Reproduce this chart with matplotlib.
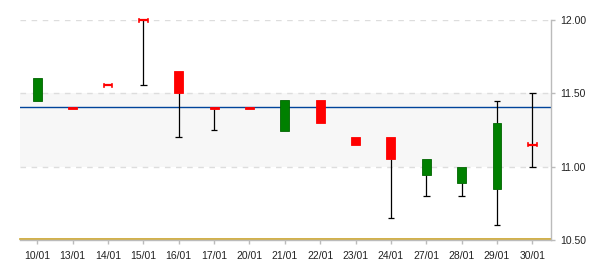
import matplotlib
matplotlib.use("Agg")
import matplotlib.pyplot as plt
from matplotlib.patches import Rectangle

dates = ["10/01", "13/01", "14/01", "15/01", "16/01", "17/01", "20/01", "21/01",
         "22/01", "23/01", "24/01", "27/01", "28/01", "29/01", "30/01"]
opens  = [11.45, 11.41, 11.555, 12.00, 11.65, 11.41, 11.41, 11.245, 11.455, 11.20, 11.20, 10.94, 10.89, 10.85, 11.148]
closes = [11.605, 11.395, 11.555, 12.00, 11.50, 11.395, 11.395, 11.455, 11.30, 11.15, 11.05, 11.05, 11.00, 11.30, 11.148]
highs  = [11.605, 11.41, 11.555, 12.00, 11.65, 11.41, 11.41, 11.455, 11.455, 11.20, 11.20, 11.05, 11.00, 11.45, 11.50]
lows   = [11.45, 11.395, 11.555, 11.555, 11.20, 11.25, 11.395, 11.245, 11.30, 11.15, 10.65, 10.80, 10.80, 10.60, 11.00]
ref_line = 11.41
low_line = 10.51
band = (11.0, 11.5)
yticks = [10.5, 11.0, 11.5, 12.0]

plt.rcParams['font.family'] = ['Liberation Sans', 'DejaVu Sans']
fig = plt.figure(figsize=(6, 2.7), dpi=100)
ax = fig.add_axes([20/600, 1-240/270, 530.7/600, 220/270])
ax.set_xlim(-0.49, len(dates)-0.48)
ax.set_ylim(10.5, 12.0)

ax.axhspan(band[0], band[1], color="#f7f7f7", zorder=0, lw=0)
for v in [11.0, 11.5, 12.0]:
    ax.axhline(v, color="#dddddd", lw=1, ls=(0, (4, 4)), zorder=1)
ax.axhline(ref_line, color="#00449a", lw=1, zorder=2)
ax.axhline(low_line, color="#c9a227", lw=1.2, zorder=2, clip_on=False)

bw = 0.25
cw = 0.19
ypp = 1.5/220.0
for i, (o, c, h, l) in enumerate(zip(opens, closes, highs, lows)):
    up = c > o
    col = "#008000" if up else "#ff0000"
    edge = "#006400" if up else "#ff0000"
    top, bot = max(o, c), min(o, c)
    if h > top + 1e-9:
        ax.plot([i, i], [top, h], color="black", lw=0.9, zorder=3, solid_capstyle="butt")
        ax.plot([i-cw/2, i+cw/2], [h, h], color="black", lw=0.9, zorder=3, solid_capstyle="butt")
    if l < bot - 1e-9:
        ax.plot([i, i], [l, bot], color="black", lw=0.9, zorder=3, solid_capstyle="butt")
        ax.plot([i-cw/2, i+cw/2], [l, l], color="black", lw=0.9, zorder=3, solid_capstyle="butt")
    if abs(o - c) < 1e-9:
        ax.plot([i-bw/2, i+bw/2], [o, o], color="#ff0000", lw=1.6, zorder=4, solid_capstyle="butt", clip_on=False)
        for xx in (i-bw/2, i+bw/2):
            ax.plot([xx, xx], [o-1.5*ypp, o+1.5*ypp], color="#ff0000", lw=1.2, zorder=4, clip_on=False)
    else:
        hgt = max(top - bot, 2.2*ypp)
        ax.add_patch(Rectangle((i-bw/2, bot), bw, hgt, facecolor=col, edgecolor=edge,
                               lw=0.6, zorder=4))

for s in ["top", "left"]:
    ax.spines[s].set_visible(False)
ax.spines["right"].set_color("#bbbbbb")
ax.spines["bottom"].set_color("#bbbbbb")
ax.spines["right"].set_linewidth(1)
ax.spines["bottom"].set_linewidth(1)
ax.yaxis.tick_right()
ax.set_yticks(yticks)
ax.set_yticklabels([f"{v:.2f}" for v in yticks])
ax.set_xticks(range(len(dates)))
ax.set_xticklabels(dates)
ax.tick_params(axis="both", colors="#bbbbbb", labelcolor="#222222", labelsize=7.5,
               length=3, width=1)
ax.tick_params(axis="y", pad=4)
ax.tick_params(axis="x", pad=5)

fig.savefig("out.png", dpi=100)
